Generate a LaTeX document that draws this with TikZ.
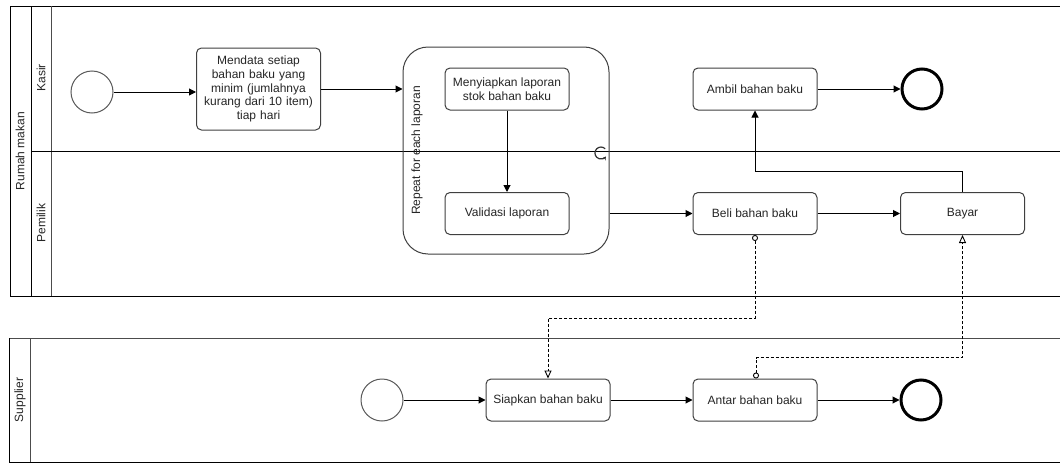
\documentclass[tikz,border=0pt]{standalone}
\usepackage{fontspec}
\setmainfont{Liberation Sans}
\usetikzlibrary{arrows.meta,calc}
\begin{document}
\begin{tikzpicture}[x=1pt,y=-1pt,
 txt/.style={font=\fontsize{12}{13.8}\selectfont, text=black!85},
 task/.style={txt, draw=black!75, line width=1pt, rounded corners=5pt, minimum width=124pt, minimum height=42pt, inner sep=2pt, align=center},
 subproc/.style={draw=black!75, line width=1pt, rounded corners=25pt, minimum width=206pt, minimum height=207pt, inner sep=0pt},
 startev/.style={circle, draw=black!65, line width=1pt, minimum size=42pt, inner sep=0pt},
 endev/.style={circle, draw=black, line width=3pt, minimum size=40pt, inner sep=0pt},
 flow/.style={draw=black, line width=1pt, -{Triangle[length=7pt,width=7pt]}},
 msg/.style={draw=black, line width=0.9pt, dash pattern=on 3pt off 2pt, {Circle[open,length=6pt,width=6pt]}-{Triangle[open,length=8pt,width=7pt]}},
 lanelbl/.style={txt, rotate=90},
 poolline/.style={draw=black, line width=1pt},
 laneline/.style={draw=black!70, line width=1pt},
]
\useasboundingbox (0,0) rectangle (1060,463);
\clip (0,0) rectangle (1060,463);
\fill[white] (0,0) rectangle (1060,463);

% Pool 1: Rumah makan
\draw[poolline] (10,6) rectangle (1075,296);
\draw[poolline] (31,6) -- (31,296);
\draw[laneline] (51,6) -- (51,296);
\draw[poolline] (31,151) -- (1075,151);
\node[lanelbl] (lp1) at (20,151) {Rumah makan};
\node[lanelbl] (lk) at (41,78) {Kasir};
\node[lanelbl] (lpm) at (41,223) {Pemilik};

% Pool 2: Supplier
\draw[laneline] (9,338) -- (1075,338);
\draw[poolline] (9,338) -- (9,462) -- (1075,462);
\draw[laneline] (30,338) -- (30,462);
\node[lanelbl] (lsup) at (20,400) {Supplier};

% Kasir / Pemilik elements
\node[startev] (s1) at (92,92) {};
\node[task, minimum height=82pt, text width=120pt] (t1) at (258.5,89) {Mendata setiap\\bahan baku yang\\minim (jumlahnya\\kurang dari 10 item)\\tiap hari};
\node[subproc] (sub) at (506,150.5) {};
\node[lanelbl] (subl) at (417,150.5) {Repeat for each laporan};
\node[task] (t2) at (507,89) {Menyiapkan laporan\\stok bahan baku};
\node[task] (t3) at (507,213.5) {Validasi laporan};
\node[task] (t4) at (755,213.5) {Beli bahan baku};
\node[task] (t5) at (962.5,213.5) {Bayar};
\node[task] (t6) at (755,89) {Ambil bahan baku};
\node[endev] (e1) at (922,89) {};

% loop marker
\coordinate (loopc) at (601,153);
\draw[black!80, line width=1.2pt, -{Stealth[length=3.5pt,width=4pt]}] ($(loopc)+(4.2,-4.2)$) arc[start angle=-45, end angle=-325, radius=6];

% Supplier elements
\node[startev] (s2) at (382,400) {};
\node[task] (t7) at (548,400) {Siapkan bahan baku};
\node[task] (t8) at (755,400) {Antar bahan baku};
\node[endev] (e2) at (921,400) {};

% sequence flows
\draw[flow] (s1.east) -- (s1.east -| t1.west);
\draw[flow] (t1.east) -- (t1.east -| sub.west);
\draw[flow] (t2) -- (t3);
\draw[flow] (sub.east |- t4) -- (t4);
\draw[flow] (t4) -- (t5);
\draw[flow] (t5.north) -- ++(0,-21) -| (t6.south);
\draw[flow] (t6) -- (e1);
\draw[flow] (s2) -- (t7);
\draw[flow] (t7) -- (t8);
\draw[flow] (t8) -- (e2);

% message flows
\draw[msg] (t4.south) -- ++(0,83) -| (t7.north);
\draw[msg] ([xshift=1pt]t8.north) -- ++(0,-21) -| (t5.south);
\end{tikzpicture}
\end{document}
